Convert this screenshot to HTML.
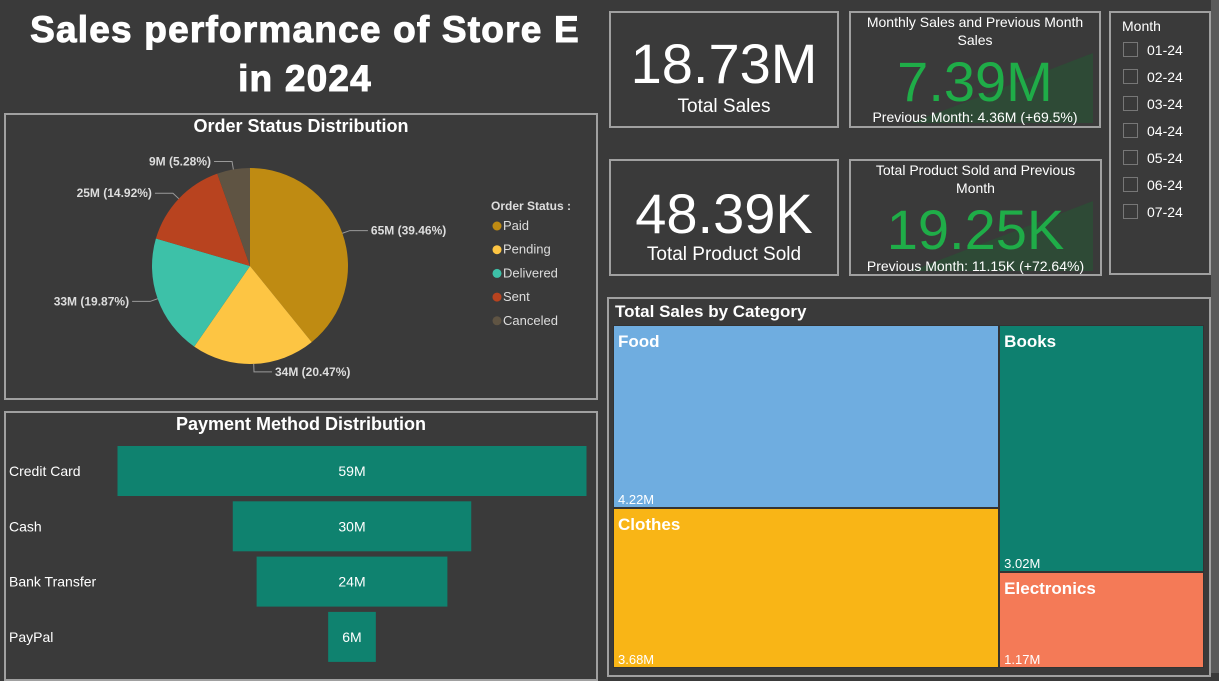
<!DOCTYPE html>
<html><head><meta charset="utf-8"><style>
body{margin:0;width:1219px;height:673px;background:#3a3a3a;overflow:hidden;font-family:"Liberation Sans",Arial,sans-serif;color:#fff;position:relative}
.p{position:absolute;border:2px solid #a0a0a0;box-sizing:border-box}
.a{position:absolute}
</style></head><body>
<div class="a" style="left:0;top:5px;width:610px;text-align:center;font-weight:900;font-size:37px;line-height:49px;letter-spacing:1.2px;-webkit-text-stroke:1px #fff">Sales performance of Store E<br>in 2024</div>

<div class="p" style="left:609px;top:11px;width:230px;height:117px">
<div class="a" style="left:0;right:0;top:18px;text-align:center;font-size:56px">18.73M</div>
<div class="a" style="left:0;right:0;top:83px;text-align:center;font-size:19px">Total Sales</div></div>

<div class="p" style="left:609px;top:159px;width:230px;height:117px">
<div class="a" style="left:0;right:0;top:20px;text-align:center;font-size:56px">48.39K</div>
<div class="a" style="left:0;right:0;top:83px;text-align:center;font-size:19px">Total Product Sold</div></div>

<div class="p" style="left:849px;top:11px;width:252px;height:117px;overflow:hidden">
<svg class="a" style="left:0;top:0" width="250" height="115"><polygon points="60,110 242,40 242,110" fill="#2e4a36"/></svg>
<div class="a" style="left:0;right:0;top:0;text-align:center;font-size:14px;line-height:18px">Monthly Sales and Previous Month<br>Sales</div>
<div class="a" style="left:0;right:0;top:36px;text-align:center;font-size:56px;color:#1fad48">7.39M</div>
<div class="a" style="left:0;right:0;top:96px;text-align:center;font-size:14px">Previous Month: 4.36M (+69.5%)</div></div>

<div class="p" style="left:849px;top:159px;width:253px;height:117px;overflow:hidden">
<svg class="a" style="left:0;top:0" width="250" height="115"><polygon points="60,110 242,40 242,110" fill="#2e4a36"/></svg>
<div class="a" style="left:0;right:0;top:0;text-align:center;font-size:14px;line-height:18px">Total Product Sold and Previous<br>Month</div>
<div class="a" style="left:0;right:0;top:36px;text-align:center;font-size:56px;color:#1fad48">19.25K</div>
<div class="a" style="left:0;right:0;top:97px;text-align:center;font-size:14px">Previous Month: 11.15K (+72.64%)</div></div>

<div class="p" style="left:1109px;top:11px;width:102px;height:264px">
<div class="a" style="left:11px;top:5px;font-size:14px">Month</div>
<div id="months"></div></div>
<div class="a" style="left:1211px;top:0;width:8px;height:673px;background:#5a5a5a"></div>

<div class="p" style="left:4px;top:113px;width:594px;height:287px">
<div class="a" style="left:0;right:0;top:1px;text-align:center;font-weight:bold;font-size:18px">Order Status Distribution</div></div>
<svg class="a" id="pie" style="left:0;top:0" width="600" height="400"></svg>

<div class="p" style="left:4px;top:411px;width:594px;height:270px">
<div class="a" style="left:0;right:0;top:1px;text-align:center;font-weight:bold;font-size:18px">Payment Method Distribution</div></div>
<svg class="a" id="funnel" style="left:0;top:0" width="600" height="673"></svg>

<div class="p" style="left:607px;top:297px;width:604px;height:380px">
<div class="a" style="left:6px;top:3px;font-weight:bold;font-size:17px">Total Sales by Category</div></div>
<div id="tree"></div>

<script>
const NS="http://www.w3.org/2000/svg";
function mk(p,t,at){const e=document.createElementNS(NS,t);for(const k in at)e.setAttribute(k,at[k]);p.appendChild(e);return e;}
const months=["01-24","02-24","03-24","04-24","05-24","06-24","07-24"];
const mc=document.getElementById('months');
months.forEach((m,i)=>{const d=document.createElement('div');d.className='a';d.style.cssText=`left:12px;top:${29+i*27}px;font-size:14px;white-space:nowrap`;
d.innerHTML=`<span style="display:inline-block;width:13px;height:13px;border:1px solid #777;vertical-align:-2px;margin-right:9px"></span>${m}`;


mc.appendChild(d);});

const statuses=["Paid","Pending","Delivered","Sent","Canceled"];
const statusVals=[65,34,33,25,9];
const statusPct=["39.46%","20.47%","19.87%","14.92%","5.28%"];
const statusColors=["#bf8b12","#fdc543","#3dc1a8","#b8431f","#5f5443"];
const pie=document.getElementById('pie');
const cx=250,cy=266,r=98;const tot=statusVals.reduce((a,b)=>a+b,0);
let ang=0;
statusVals.forEach((v,i)=>{const a0=ang,a1=ang+v/tot*2*Math.PI;ang=a1;
const x0=cx+r*Math.sin(a0),y0=cy-r*Math.cos(a0),x1=cx+r*Math.sin(a1),y1=cy-r*Math.cos(a1);
const s=mk(pie,'path',{d:`M${cx},${cy}L${x0},${y0}A${r},${r} 0 ${a1-a0>Math.PI?1:0} 1 ${x1},${y1}Z`,fill:statusColors[i]});


const am=(a0+a1)/2,sx=Math.sin(am),sy=-Math.cos(am);
const ex=cx+(r+8)*sx,ey=cy+(r+8)*sy,right=sx>=0;
const hx=ex+(right?18:-18);
mk(pie,'polyline',{points:`${cx+r*sx},${cy+r*sy} ${ex},${ey} ${hx},${ey}`,fill:'none',stroke:'#999','stroke-width':1});
const t=mk(pie,'text',{x:hx+(right?3:-3),y:ey+4,'text-anchor':right?'start':'end',fill:'#ddd','font-size':12,'font-weight':'bold'});
t.textContent=statusVals[i]+"M ("+statusPct[i]+")";

});
const lt=mk(pie,'text',{x:491,y:210,fill:'#ddd','font-size':12,'font-weight':'bold'});lt.textContent="Order Status :";


statuses.forEach((s,i)=>{const y=226+i*23.7;mk(pie,'circle',{cx:497,cy:y,r:4.5,fill:statusColors[i]});
const t=mk(pie,'text',{x:503,y:y+4,fill:'#ddd','font-size':13});t.textContent=s;

});

const methods=["Credit Card","Cash","Bank Transfer","PayPal"];
const methodVals=[59,30,24,6];
const fun=document.getElementById('funnel');
const fcx=352,maxW=469,maxV=Math.max(...methodVals);
methods.forEach((m,i)=>{const w=methodVals[i]/maxV*maxW,y=446+i*55.3;
const b=mk(fun,'rect',{x:fcx-w/2,y:y,width:w,height:50,fill:'#0f826f'});


const v=mk(fun,'text',{x:fcx,y:y+30,'text-anchor':'middle',fill:'#fff','font-size':14});v.textContent=methodVals[i]+"M";
const l=mk(fun,'text',{x:9,y:y+30,fill:'#fff','font-size':14});l.textContent=m;

});

const cats=["Food","Clothes","Books","Electronics"];
const catVals=[4.22,3.68,3.02,1.17];
const catColors=["#6fade0","#f9b516","#0e806f","#f47a57"];
const tree=document.getElementById('tree');
const X0=613,Y0=325,W=591,H=343;const ct=catVals.reduce((a,b)=>a+b,0);
const lw=W*(catVals[0]+catVals[1])/ct;
const fh=H*catVals[0]/(catVals[0]+catVals[1]);const bh=H*catVals[2]/(catVals[2]+catVals[3]);
const rects=[[X0,Y0,lw,fh],[X0,Y0+fh,lw,H-fh],[X0+lw,Y0,W-lw,bh],[X0+lw,Y0+bh,W-lw,H-bh]];
rects.forEach((r,i)=>{const d=document.createElement('div');d.className='a';
d.style.cssText=`left:${r[0]}px;top:${r[1]}px;width:${r[2]-2}px;height:${r[3]-2}px;background:${catColors[i]};border:1px solid #333`;
d.innerHTML=`<div class="a" style="left:4px;top:6px;font-weight:bold;font-size:17px">${cats[i]}</div><div class="a" style="left:4px;bottom:0;font-size:13px">${catVals[i].toFixed(2)}M</div>`;


tree.appendChild(d);});
</script>
</body></html>
